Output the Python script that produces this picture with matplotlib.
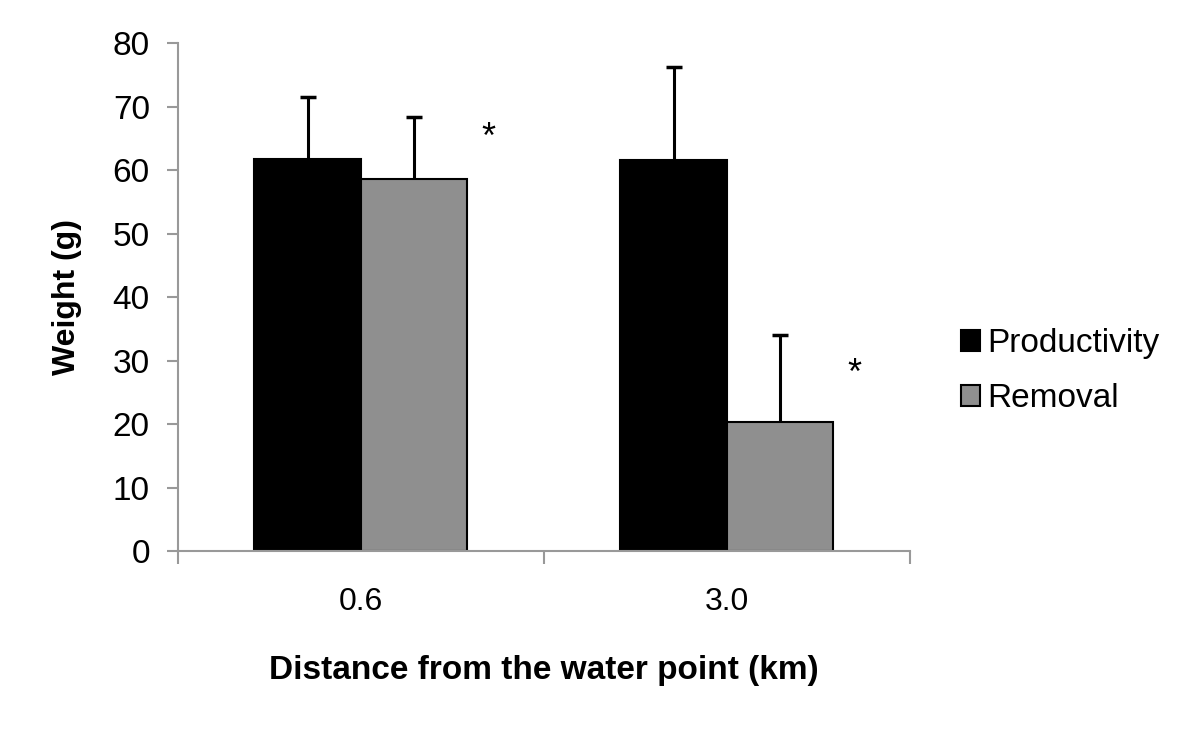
import matplotlib
matplotlib.use("Agg")
import matplotlib.pyplot as plt
import numpy as np

categories = ["0.6", "3.0"]
productivity = [61.8, 61.6]
productivity_err = [9.8, 14.6]
removal = [58.6, 20.4]
removal_err = [9.8, 13.6]
asterisk_y = [65.0, 27.8]
series_names = ["Productivity", "Removal"]

plt.rcParams['font.family'] = ['Liberation Sans', 'DejaVu Sans']

fig = plt.figure(figsize=(12, 7.34), dpi=100)
ax = fig.add_axes([0.148, 0.249, 0.610, 0.692])

x = np.arange(len(categories)) + 0.5
w = 0.29
ax.bar(x - w/2, productivity, w, color='black', edgecolor='black', linewidth=1.5, label=series_names[0], zorder=2)
ax.bar(x + w/2, removal, w, color='#8f8f8f', edgecolor='black', linewidth=1.5, label=series_names[1], zorder=2)

for xs, vals, errs in [(x - w/2, productivity, productivity_err), (x + w/2, removal, removal_err)]:
    tops = np.array(vals) + np.array(errs)
    ax.vlines(xs, vals, tops, colors='black', linewidth=2.2, zorder=3)
    ax.plot(xs, tops, linestyle='none', marker='_', markersize=12, mew=2.5, color='black', zorder=3)

for xi, yi in zip(x, asterisk_y):
    ax.text(xi + w + 0.06, yi, '*', fontsize=26, ha='center', va='center')

ax.set_xlim(0, 2)
ax.set_ylim(0, 80)
ax.set_yticks(np.arange(0, 81, 10))
ax.set_xticks([0, 1, 2])
ax.set_xticklabels([])
ax.set_xticks(x, minor=True)
ax.set_xticklabels(categories, minor=True)
ax.tick_params(axis='x', which='minor', length=0, pad=26, labelsize=23)
ax.tick_params(axis='x', which='major', length=9, color='#999999', width=1.5, direction='out')
ax.tick_params(axis='y', length=8, color='#999999', width=1.5, labelsize=24, pad=12)
for s in ['top', 'right']:
    ax.spines[s].set_visible(False)
for s in ['left', 'bottom']:
    ax.spines[s].set_color('#999999')
    ax.spines[s].set_linewidth(1.5)

ax.set_ylabel('Weight (g)', fontsize=23, fontweight='bold', labelpad=22)
ax.set_xlabel('Distance from the water point (km)', fontsize=24, fontweight='bold', labelpad=27)

leg = ax.legend(loc='center left', bbox_to_anchor=(1.07, 0.355), frameon=False, fontsize=24,
                handlelength=0.58, handleheight=0.58, handletextpad=0.2, labelspacing=0.72,
                borderaxespad=0, borderpad=0)

fig.savefig('out.png', dpi=100)
